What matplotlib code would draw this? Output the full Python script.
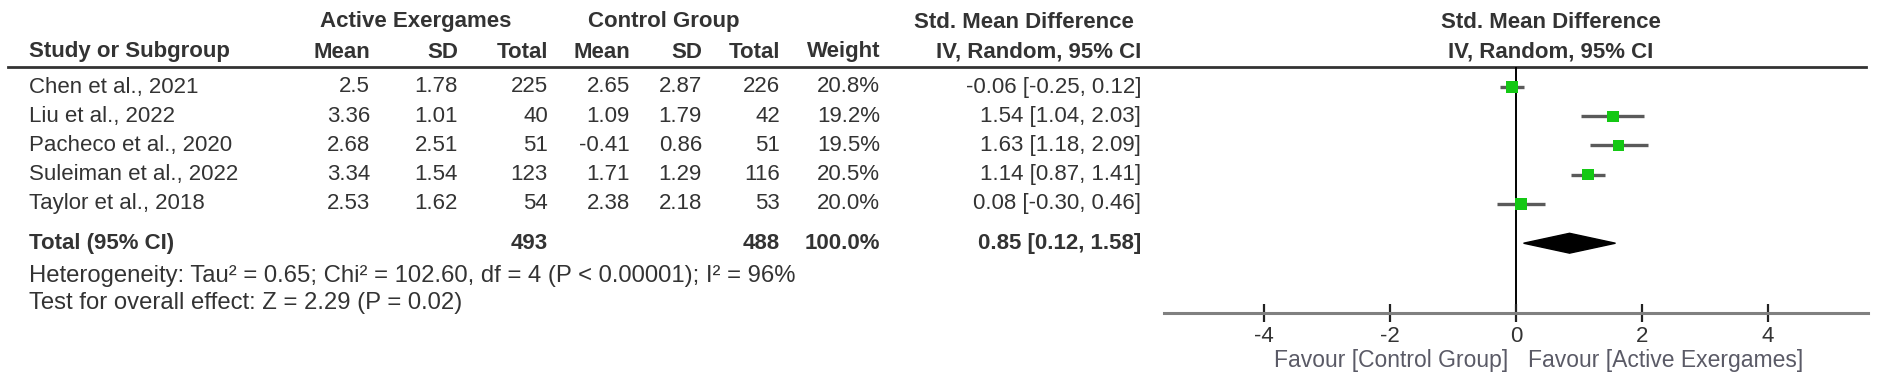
import matplotlib
matplotlib.use('Agg')
import matplotlib.pyplot as plt

plt.rcParams['font.family'] = ['Liberation Sans', 'DejaVu Sans']

# ---------------- data ----------------
studies = ['Chen et al., 2021', 'Liu et al., 2022', 'Pacheco et al., 2020',
           'Suleiman et al., 2022', 'Taylor et al., 2018']
ae_mean = [2.5, 3.36, 2.68, 3.34, 2.53]
ae_sd = [1.78, 1.01, 2.51, 1.54, 1.62]
ae_n = [225, 40, 51, 123, 54]
ctl_mean = [2.65, 1.09, -0.41, 1.71, 2.38]
ctl_sd = [2.87, 1.79, 0.86, 1.29, 2.18]
ctl_n = [226, 42, 51, 116, 53]
weights = [20.8, 19.2, 19.5, 20.5, 20.0]
smd = [-0.06, 1.54, 1.63, 1.14, 0.08]
ci_lo = [-0.25, 1.04, 1.18, 0.87, -0.30]
ci_hi = [0.12, 2.03, 2.09, 1.41, 0.46]

total_ae_n = 493
total_ctl_n = 488
total_weight = 100.0
total_smd = 0.85
total_lo = 0.12
total_hi = 1.58

heterogeneity = 'Heterogeneity: Tau\u00b2 = 0.65; Chi\u00b2 = 102.60, df = 4 (P < 0.00001); I\u00b2 = 96%'
overall = 'Test for overall effect: Z = 2.29 (P = 0.02)'
x_ticks = [-4, -2, 0, 2, 4]
favour_left = 'Favour [Control Group]'
favour_right = 'Favour [Active Exergames]'

# ---------------- layout (pixels) ----------------
W, H = 1902, 381
FS = 16
TXT = '#333333'
row0, row_h = 87, 29.2
total_row = 5.35
rule_y, axis_y = 67, 313
plot_l, plot_r = 1164, 1868
left_x = 29

def row_y(i):
    return row0 + i * row_h

fig = plt.figure(figsize=(W / 100, H / 100), dpi=100)
tab = fig.add_axes([0, 0, 1, 1])
tab.set_xlim(0, W)
tab.set_ylim(H, 0)
tab.axis('off')

def put(x, y, s, ha='right', bold=False, color=TXT, size=FS):
    tab.text(x, y, s, ha=ha, va='center', fontsize=size, color=color,
             fontweight='bold' if bold else 'normal')

# header
put(416, 22, 'Active Exergames', ha='center', bold=True)
put(664, 22, 'Control Group', ha='center', bold=True)
put(1024, 22, 'Std. Mean Difference', ha='center', bold=True)
put(1551, 22, 'Std. Mean Difference', ha='center', bold=True)
put(left_x, 52, 'Study or Subgroup', ha='left', bold=True)
cols = [370, 458, 548, 630, 702, 780, 880]
for x, lab in zip(cols, ['Mean', 'SD', 'Total', 'Mean', 'SD', 'Total', 'Weight']):
    put(x, 52, lab, bold=True)
put(1141, 52, 'IV, Random, 95% CI', bold=True)
put(1551, 52, 'IV, Random, 95% CI', ha='center', bold=True)
tab.plot([8, 1866], [rule_y, rule_y], color='#333333', lw=2)

# study rows
for i, name in enumerate(studies):
    y = row_y(i)
    put(left_x, y, name, ha='left')
    vals = [f'{ae_mean[i]:g}', f'{ae_sd[i]:g}', str(ae_n[i]),
            f'{ctl_mean[i]:g}', f'{ctl_sd[i]:g}', str(ctl_n[i]),
            f'{weights[i]:.1f}%']
    for x, v in zip(cols, vals):
        put(x, y, v)
    put(1141, y, f'{smd[i]:.2f} [{ci_lo[i]:.2f}, {ci_hi[i]:.2f}]')

# total row
yt = row_y(total_row)
put(left_x, yt, 'Total (95% CI)', ha='left', bold=True)
put(cols[2], yt, str(total_ae_n), bold=True)
put(cols[5], yt, str(total_ctl_n), bold=True)
put(cols[6], yt, f'{total_weight:.1f}%', bold=True)
put(1141, yt, f'{total_smd:.2f} [{total_lo:.2f}, {total_hi:.2f}]', bold=True)
put(left_x, 276, heterogeneity, ha='left', size=17.2)
put(left_x, 303, overall, ha='left', size=17.2)

# ---------------- forest plot ----------------
ax = fig.add_axes([plot_l / W, 1 - axis_y / H, (plot_r - plot_l) / W, (axis_y - rule_y) / H])
ax.set_xlim(-5.59, 5.59)
ax.set_ylim((axis_y - row0) / row_h, (rule_y - row0) / row_h)
ax.patch.set_visible(False)
for s in ['left', 'right', 'top']:
    ax.spines[s].set_visible(False)
ax.spines['bottom'].set_color('#808080')
ax.spines['bottom'].set_linewidth(2.2)
ax.set_yticks([])
ax.set_xticks(x_ticks)
ax.set_xticklabels([str(t) for t in x_ticks], fontsize=FS, color=TXT)
ax.tick_params(axis='x', direction='inout', length=13, width=1.6, color='#222222', pad=3)

ax.axvline(0, color='black', lw=1.4, zorder=1)
rows = list(range(len(studies)))
ax.hlines(rows, ci_lo, ci_hi, color='#5a5a5a', lw=2.4, zorder=2)
ax.scatter(smd, rows, marker='s', s=[w * 3.4 for w in weights], color='#14c814',
           edgecolors='none', zorder=3)
dh = 0.34
ax.fill([total_lo, total_smd, total_hi, total_smd],
        [total_row, total_row - dh, total_row, total_row + dh], color='black', zorder=3)

tab.text(1508, 360, favour_left, ha='right', va='center', fontsize=16.5, color='#5a5a66')
tab.text(1528, 360, favour_right, ha='left', va='center', fontsize=16.5, color='#5a5a66')

fig.savefig('out.png', dpi=100)
